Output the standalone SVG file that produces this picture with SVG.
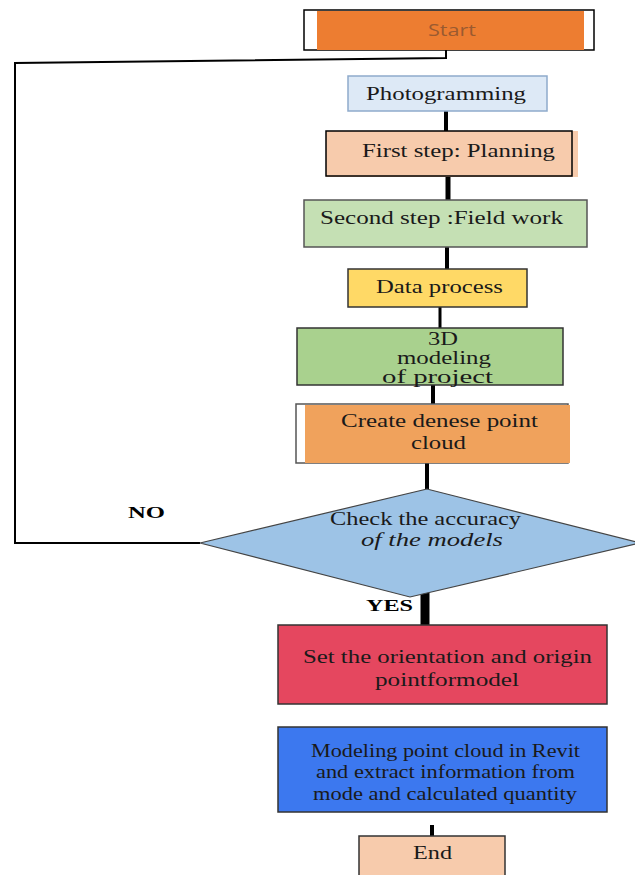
<svg xmlns="http://www.w3.org/2000/svg" width="635" height="875" viewBox="0 0 635 875">
<style>
.t{font-family:"Liberation Serif","Times New Roman",serif;font-size:19px;fill:#1a1a1a}
.b{font-weight:bold;font-size:17px;fill:#000}
.c{stroke:#000;fill:none}
</style>
<rect width="635" height="875" fill="#fff"/>
<g id="connectors">
<path class="c" d="M446 50V58L15 63V543H200" stroke-width="2"/>
<path class="c" d="M446 111V133" stroke-width="4"/>
<path class="c" d="M448 176V200" stroke-width="5"/>
<path class="c" d="M447 247V270" stroke-width="4"/>
<path class="c" d="M440 307V328" stroke-width="3"/>
<path class="c" d="M433 385V405" stroke-width="4"/>
<path class="c" d="M427 463V489" stroke-width="4"/>
<path class="c" d="M425 585V625" stroke-width="9"/>
<path class="c" d="M432 825V836" stroke-width="4"/>
</g>
<g id="start">
<rect x="304" y="10" width="290" height="40" fill="#fff" stroke="#000" stroke-width="1.5"/>
<rect x="317" y="11" width="267" height="39" fill="#ed7d31"/>
<text x="428" y="36" textLength="48" lengthAdjust="spacingAndGlyphs" style="font-family:'Open Sans','Noto Sans',sans-serif;font-size:17px;fill:#9a5a30">Start</text>
</g>
<g id="photogramming">
<rect x="348" y="76" width="199" height="35" fill="#dde9f6" stroke="#8eaacb" stroke-width="1.5"/>
<text class="t" x="366" y="100" textLength="160" lengthAdjust="spacingAndGlyphs">Photogramming</text>
</g>
<g id="planning">
<rect x="326" y="131" width="252" height="46" fill="#f7cbac"/>
<rect x="326" y="131" width="246" height="45" fill="none" stroke="#000" stroke-width="1.5"/>
<text class="t" x="362" y="157" textLength="193" lengthAdjust="spacingAndGlyphs">First step: Planning</text>
</g>
<g id="fieldwork">
<rect x="304" y="200" width="283" height="47" fill="#c5e0b4" stroke="#555" stroke-width="1.5"/>
<text class="t" x="320" y="224" textLength="243" lengthAdjust="spacingAndGlyphs">Second step :Field work</text>
</g>
<g id="dataprocess">
<rect x="348" y="269" width="179" height="38" fill="#ffd966" stroke="#333" stroke-width="1.5"/>
<text class="t" x="376" y="293" textLength="127" lengthAdjust="spacingAndGlyphs">Data process</text>
</g>
<g id="modeling3d">
<rect x="297" y="328" width="266" height="57" fill="#a9d18e" stroke="#333" stroke-width="1.5"/>
<text class="t" x="428" y="345" textLength="30" lengthAdjust="spacingAndGlyphs">3D</text>
<text class="t" x="397" y="364" textLength="94" lengthAdjust="spacingAndGlyphs">modeling</text>
<text class="t" x="382" y="383" textLength="111" lengthAdjust="spacingAndGlyphs">of project</text>
</g>
<g id="densecloud">
<rect x="296" y="404" width="272" height="59" fill="#fff" stroke="#555" stroke-width="1.5"/>
<rect x="305" y="405" width="265" height="58" fill="#f0a25c"/>
<text class="t" x="341" y="427" textLength="197" lengthAdjust="spacingAndGlyphs">Create denese point</text>
<text class="t" x="411" y="449" textLength="55" lengthAdjust="spacingAndGlyphs">cloud</text>
</g>
<g id="check">
<polygon points="427,489 200,543 410,597 640,543" fill="#9dc3e6" stroke="#444" stroke-width="1.2"/>
<text class="t" x="330" y="525" textLength="191" lengthAdjust="spacingAndGlyphs">Check the accuracy</text>
<text class="t" x="361" y="546" textLength="142" lengthAdjust="spacingAndGlyphs" font-style="italic">of the models</text>
<text class="t b" x="128" y="518" textLength="37" lengthAdjust="spacingAndGlyphs">NO</text>
<text class="t b" x="366" y="611" textLength="47" lengthAdjust="spacingAndGlyphs">YES</text>
</g>
<g id="orientation">
<rect x="278" y="625" width="329" height="79" fill="#e5475f" stroke="#333" stroke-width="1.5"/>
<text class="t" x="303" y="663" textLength="289" lengthAdjust="spacingAndGlyphs">Set the orientation and origin</text>
<text class="t" x="375" y="686" textLength="144" lengthAdjust="spacingAndGlyphs">pointformodel</text>
</g>
<g id="revit">
<rect x="278" y="727" width="329" height="85" fill="#3c78ef" stroke="#333" stroke-width="1.5"/>
<text class="t" x="311" y="757" textLength="269" lengthAdjust="spacingAndGlyphs">Modeling point cloud in Revit</text>
<text class="t" x="316" y="778" textLength="259" lengthAdjust="spacingAndGlyphs">and extract information from</text>
<text class="t" x="313" y="800" textLength="264" lengthAdjust="spacingAndGlyphs">mode and calculated quantity</text>
</g>
<g id="end">
<rect x="359" y="836" width="146" height="45" fill="#f7cbac" stroke="#333" stroke-width="1.5"/>
<text class="t" x="413" y="859" textLength="39" lengthAdjust="spacingAndGlyphs">End</text>
</g>
</svg>
